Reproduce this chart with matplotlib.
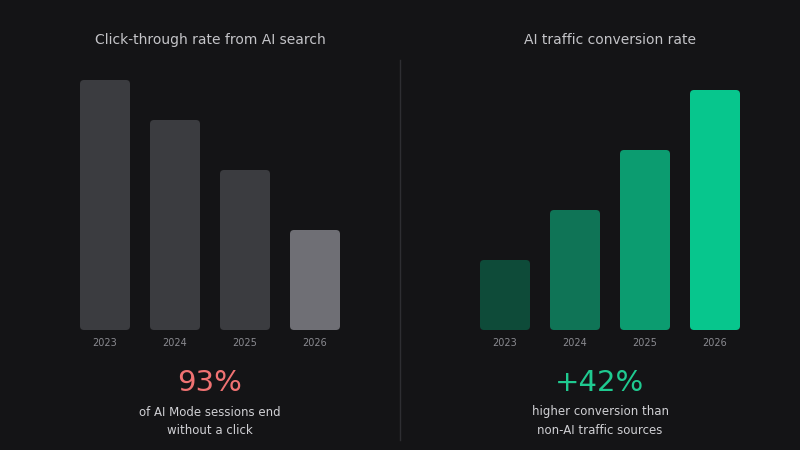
import matplotlib
matplotlib.use("Agg")
import matplotlib.pyplot as plt
from matplotlib.patches import FancyBboxPatch

years = ["2023", "2024", "2025", "2026"]
ctr_values = [250, 210, 160, 100]
conv_values = [70, 120, 180, 240]
ctr_colors = ["#3b3c40", "#3b3c40", "#3b3c40", "#6f6f75"]
conv_colors = ["#0e4b39", "#0f7456", "#0c9c70", "#07c68d"]

W, H = 800, 450
fig = plt.figure(figsize=(8, 4.5), dpi=100)
fig.patch.set_facecolor("#141416")

def draw(x0, vals, cols, title):
    ax = fig.add_axes([x0 / W, 120 / H, 280 / W, 270 / H])
    ax.set_facecolor("none")
    ax.set_xlim(-0.5, 3.5)
    ax.set_ylim(0, 270)
    for s in ax.spines.values():
        s.set_visible(False)
    ax.set_yticks([])
    ax.set_xticks(range(4))
    ax.set_xticklabels(years, color="#8a8a90", fontsize=7)
    ax.tick_params(axis="x", length=0, pad=6)
    bw = 50 / 70
    for i, (v, c) in enumerate(zip(vals, cols)):
        p = FancyBboxPatch((i - bw / 2, 0), bw, v,
                           boxstyle="round,pad=0,rounding_size=%f" % (4 / 70),
                           mutation_aspect=70, facecolor=c, edgecolor="none")
        ax.add_patch(p)
    fig.text((x0 + 140) / W, 1 - 40 / H, title, ha="center", va="center",
             color="#c4c4c8", fontsize=10)

draw(70, ctr_values, ctr_colors, "Click-through rate from AI search")
draw(470, conv_values, conv_colors, "AI traffic conversion rate")

fig.add_artist(plt.Line2D([400 / W, 400 / W], [1 - 60 / H, 1 - 440 / H],
                          color="#2e2e32", lw=1))

fig.text(210 / W, 1 - 383 / H, "93%", ha="center", va="center",
         color="#f07272", fontsize=21)
fig.text(210 / W, 1 - 421 / H, "of AI Mode sessions end\nwithout a click",
         ha="center", va="center", color="#d0d0d4", fontsize=8.5, linespacing=1.5)
fig.text(600 / W, 1 - 383 / H, "+42%", ha="center", va="center",
         color="#1fca90", fontsize=21)
fig.text(600 / W, 1 - 421 / H, "higher conversion than\nnon-AI traffic sources",
         ha="center", va="center", color="#d0d0d4", fontsize=8.5, linespacing=1.5)

fig.savefig("out.png", dpi=100, facecolor=fig.get_facecolor())
